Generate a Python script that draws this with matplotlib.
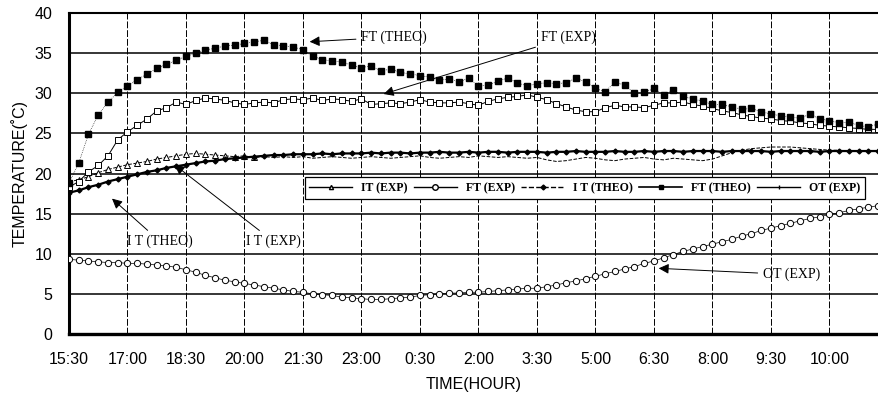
import numpy as np
import matplotlib
matplotlib.use("Agg")
import matplotlib.pyplot as plt
from matplotlib.lines import Line2D

# time axis: 15 min samples starting at 15:30 (hours after start)
hours = np.arange(84) * 0.25

ft_theo = [18.8, 21.3, 24.9, 27.3, 28.9, 30.1, 30.9, 31.7, 32.4, 33.1, 33.6, 34.1,
           34.6, 35.0, 35.4, 35.6, 35.9, 36.0, 36.2, 36.4, 36.6, 36.0, 35.9, 35.8,
           35.4, 34.6, 34.2, 34.0, 33.9, 33.5, 33.2, 33.4, 32.8, 33.0, 32.6, 32.4,
           32.2, 32.0, 31.6, 31.8, 31.4, 31.9, 30.9, 31.0, 31.5, 31.9, 31.3, 30.9,
           31.2, 31.3, 31.2, 31.3, 31.9, 31.4, 30.6, 30.2, 31.4, 31.0, 30.0, 30.1,
           30.6, 29.8, 30.4, 29.6, 29.3, 29.0, 28.6, 28.6, 28.3, 28.0, 28.1, 27.7,
           27.4, 27.2, 27.0, 26.9, 27.4, 26.8, 26.6, 26.3, 26.4, 26.0, 25.8, 26.2]

ft_exp = [18.3, 19.0, 20.2, 21.0, 22.2, 24.2, 25.2, 26.0, 26.8, 27.8, 28.2, 28.9,
          28.6, 29.1, 29.4, 29.3, 29.1, 28.8, 28.6, 28.8, 28.9, 28.8, 29.2, 29.3,
          29.2, 29.4, 29.1, 29.3, 29.2, 29.0, 29.3, 28.6, 28.7, 28.8, 28.7, 28.9,
          29.2, 28.9, 28.8, 28.8, 28.9, 28.7, 28.5, 29.0, 29.3, 29.5, 29.6, 29.8,
          29.5, 29.2, 28.7, 28.3, 27.9, 27.7, 27.7, 28.2, 28.5, 28.3, 28.3, 28.2,
          28.5, 28.8, 28.8, 28.9, 28.6, 28.4, 28.1, 27.8, 27.6, 27.3, 27.1, 26.9,
          26.8, 26.6, 26.5, 26.3, 26.2, 26.0, 25.9, 25.8, 25.7, 25.6, 25.5, 25.5]

it_exp = [19.0, 19.2, 19.6, 20.1, 20.5, 20.8, 21.1, 21.3, 21.5, 21.8, 22.0, 22.2,
          22.4, 22.5, 22.4, 22.3, 22.2, 22.1, 22.2, 22.0, 22.1, 22.0, 22.1, 22.0,
          22.1, 21.9, 22.0, 22.1, 22.0, 21.9, 22.0, 22.1, 22.0, 21.9, 22.0, 22.1,
          22.2, 22.0, 21.9, 22.0, 22.1, 22.0, 22.2, 22.1, 22.0, 22.1, 22.0, 21.9,
          22.0, 21.7, 21.5, 21.6, 21.8, 22.0, 21.9, 21.7, 21.6, 21.8, 21.9, 22.0,
          21.8, 21.7, 21.9, 21.8, 21.7, 21.6, 21.8, 22.2, 22.6, 22.9, 23.1, 23.2,
          23.3, 23.3, 23.3, 23.2, 23.1, 23.0, 22.9, 22.9, 22.8, 22.8, 22.8, 22.8]

it_theo = [17.6, 17.9, 18.3, 18.6, 19.0, 19.3, 19.6, 19.9, 20.2, 20.4, 20.7, 20.9,
           21.1, 21.3, 21.5, 21.6, 21.8, 21.9, 22.0, 22.1, 22.2, 22.3, 22.3, 22.4,
           22.4, 22.4, 22.5, 22.4, 22.5, 22.5, 22.5, 22.6, 22.5, 22.6, 22.6, 22.5,
           22.6, 22.6, 22.7, 22.6, 22.6, 22.7, 22.6, 22.7, 22.7, 22.6, 22.7, 22.7,
           22.7, 22.6, 22.7, 22.7, 22.8, 22.7, 22.7, 22.7, 22.8, 22.7, 22.7, 22.8,
           22.7, 22.8, 22.8, 22.7, 22.8, 22.8, 22.8, 22.7, 22.8, 22.8, 22.8, 22.8,
           22.7, 22.8, 22.8, 22.8, 22.8, 22.7, 22.8, 22.8, 22.8, 22.8, 22.8, 22.8]

ot_exp = [9.3, 9.2, 9.1, 9.0, 8.9, 8.9, 8.8, 8.8, 8.7, 8.6, 8.5, 8.3,
          8.0, 7.7, 7.3, 7.0, 6.7, 6.5, 6.3, 6.1, 5.9, 5.7, 5.5, 5.3,
          5.2, 5.0, 4.9, 4.8, 4.6, 4.5, 4.4, 4.3, 4.3, 4.4, 4.5, 4.6,
          4.8, 4.9, 5.0, 5.1, 5.1, 5.2, 5.2, 5.3, 5.4, 5.5, 5.6, 5.7,
          5.7, 5.9, 6.1, 6.4, 6.6, 6.9, 7.2, 7.5, 7.8, 8.1, 8.4, 8.8,
          9.1, 9.5, 9.9, 10.3, 10.6, 10.9, 11.2, 11.5, 11.8, 12.2, 12.5, 12.9,
          13.2, 13.5, 13.8, 14.1, 14.4, 14.6, 14.9, 15.1, 15.4, 15.6, 15.8, 16.0]

tick_labels = ["15:30", "17:00", "18:30", "20:00", "21:30", "23:00", "0:30",
               "2:00", "3:30", "5:00", "6:30", "8:00", "9:30", "10:00"]
tick_pos = np.arange(len(tick_labels)) * 1.5

serif = "Liberation Serif"
sans = "Liberation Sans"

fig = plt.figure(figsize=(8.79, 4.01), dpi=100)
ax = fig.add_axes([69 / 879, 67 / 401, 810 / 879, 321 / 401])

# grid
for y in range(5, 40, 5):
    ax.axhline(y, color="black", lw=1.1, zorder=1)
for x in tick_pos[1:]:
    ax.axvline(x, color="black", lw=0.7, ls=(0, (7, 2)), zorder=1)

ax.plot(hours, ot_exp, "-", color="black", lw=0.5, marker="o", ms=4.5,
        mfc="white", mec="black", mew=0.7, zorder=3)
ax.plot(hours, it_exp, "--", color="black", lw=0.7, marker="^", ms=4,
        mfc="white", mec="black", mew=0.7, markevery=slice(0, 20), zorder=3)
ax.plot(hours, it_theo, "-", color="black", lw=1.6, marker="D", ms=2.5,
        mfc="black", mec="black", zorder=4)
ax.plot(hours, ft_exp, "-", color="black", lw=0.7, marker="s", ms=5,
        mfc="white", mec="black", mew=0.7, zorder=4)
ax.plot(hours, ft_theo, ":", color="black", lw=0.5, marker="s", ms=4.5,
        mfc="black", mec="black", zorder=5)

ax.set_xlim(0, 20.77)
ax.set_ylim(0, 40)
ax.set_yticks(range(0, 41, 5))
ax.set_xticks(tick_pos)
ax.set_xticklabels(tick_labels)
ax.tick_params(axis="both", length=0, labelsize=11.5)
ax.tick_params(axis="x", pad=13)
ax.tick_params(axis="y", pad=12)
for lab in ax.get_xticklabels() + ax.get_yticklabels():
    lab.set_family(sans)

ax.spines["right"].set_visible(False)
ax.spines["left"].set_linewidth(2.2)
ax.spines["bottom"].set_linewidth(2.4)
ax.spines["top"].set_linewidth(1.5)

ax.set_xlabel("TIME(HOUR)", family=sans, fontsize=11.5, labelpad=7)
ax.set_ylabel("TEMPERATURE(˚C)", family=sans, fontsize=11.5, labelpad=5)

# annotations
arrow = dict(arrowstyle="-|>", color="black", lw=0.7, mutation_scale=15)
ax.annotate("FT (THEO)", xy=(6.1, 36.4), xytext=(7.5, 37.0), fontsize=10,
            family=serif, va="center", ha="left", arrowprops=arrow)
ax.annotate("FT (EXP)", xy=(8.0, 29.8), xytext=(12.1, 37.0), fontsize=10,
            family=serif, va="center", ha="left", arrowprops=arrow)
ax.annotate("I T (THEO)", xy=(1.05, 17.1), xytext=(1.5, 11.5), fontsize=10,
            family=serif, va="center", ha="left", arrowprops=arrow)
ax.annotate("I T (EXP)", xy=(2.65, 21.3), xytext=(4.55, 11.5), fontsize=10,
            family=serif, va="center", ha="left", arrowprops=arrow)
ax.annotate("OT (EXP)", xy=(15.05, 8.2), xytext=(17.8, 7.4), fontsize=10,
            family=serif, va="center", ha="left", arrowprops=arrow)

handles = [
    Line2D([], [], color="black", lw=1, marker="^", ms=3, mfc="white"),
    Line2D([], [], color="black", lw=1, marker="o", ms=4, mfc="white"),
    Line2D([], [], color="black", lw=1, ls="--", marker="D", ms=2.5),
    Line2D([], [], color="black", lw=1.2, marker="s", ms=3),
    Line2D([], [], color="black", lw=1, marker="|", ms=3),
]
names = ["IT (EXP)", "FT (EXP)", "I T (THEO)", "FT (THEO)", "OT (EXP)"]
leg = ax.legend(handles, names, ncol=5, loc="center", mode="expand",
                bbox_to_anchor=(0.291, 0.411, 0.692, 0.087),
                prop={"family": serif, "size": 8.5, "weight": "bold"},
                handlelength=3.6, frameon=True, fancybox=False, borderaxespad=0)
leg.get_frame().set_edgecolor("black")
leg.get_frame().set_linewidth(0.9)
leg.get_frame().set_alpha(1)
leg.set_zorder(6)

plt.savefig("out.png", dpi=100)
